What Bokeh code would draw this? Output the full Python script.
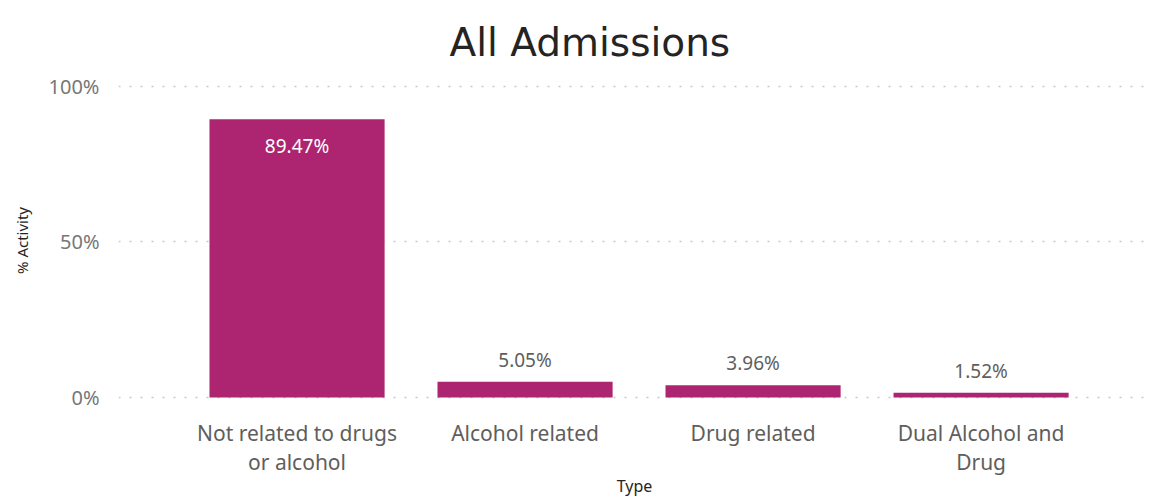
from bokeh.plotting import figure
from bokeh.models import ColumnDataSource, Range1d, LabelSet, FixedTicker
from bokeh.core.properties import value
from bokeh.embed import file_html
from bokeh.resources import INLINE

categories = ["Not related to drugs\nor alcohol", "Alcohol related", "Drug related", "Dual Alcohol and\nDrug"]
values = [89.47, 5.05, 3.96, 1.52]
value_labels = ["89.47%", "5.05%", "3.96%", "1.52%"]
y_ticks = [0, 50, 100]
y_tick_labels = ["0%", "50%", "100%"]

BAR = "#AD2471"
FONT = "Noto Sans"

xs = list(range(len(categories)))
src = ColumnDataSource(dict(x=xs, top=values))
inside = ColumnDataSource(dict(x=[xs[0]], y=[values[0]], lab=[value_labels[0]]))
outside = ColumnDataSource(dict(x=xs[1:], y=values[1:], lab=value_labels[1:]))

p = figure(width=1153, height=499, output_backend="svg", toolbar_location=None,
           x_range=Range1d(-0.783, 3.743), y_range=Range1d(-0.96, 101.9),
           min_border_left=118, min_border_right=3, min_border_top=80, min_border_bottom=99,
           title="All Admissions")
p.title.align = "left"
p.title.offset = 331
p.title.text_font = "DejaVu Sans"
p.title.text_font_size = "39px"
p.title.text_font_style = "normal"
p.title.text_color = "#252423"
p.title.standoff = 32
p.outline_line_color = None
p.background_fill_color = "white"

p.vbar(x="x", top="top", bottom=0, width=0.768, source=src, fill_color=BAR, line_color=None)

p.add_layout(LabelSet(x="x", y="y", text="lab", source=inside, text_align="center",
                      text_baseline="middle", y_offset=-27, text_color="white",
                      text_font=value(FONT), text_font_size="19px"))
p.add_layout(LabelSet(x="x", y="y", text="lab", source=outside, text_align="center",
                      text_baseline="middle", y_offset=22, text_color="#605E5C",
                      text_font=value(FONT), text_font_size="19px"))

# y axis
p.yaxis.ticker = FixedTicker(ticks=y_ticks)
p.yaxis.major_label_overrides = {t: l for t, l in zip(y_ticks, y_tick_labels)}
p.yaxis.axis_line_color = None
p.yaxis.major_tick_line_color = None
p.yaxis.minor_tick_line_color = None
p.yaxis.major_label_text_font = FONT
p.yaxis.major_label_text_font_size = "20px"
p.yaxis.major_label_text_color = "#777777"
p.yaxis.major_label_standoff = 13
p.yaxis.axis_label = "% Activity"
p.yaxis.axis_label_text_font = FONT
p.yaxis.axis_label_text_font_size = "15px"
p.yaxis.axis_label_text_font_style = "normal"
p.yaxis.axis_label_text_color = "#252423"
p.yaxis.axis_label_standoff = 14

# x axis
p.xaxis.ticker = FixedTicker(ticks=xs)
p.xaxis.major_label_overrides = {x: c for x, c in zip(xs, categories)}
p.xaxis.axis_line_color = None
p.xaxis.major_tick_line_color = None
p.xaxis.minor_tick_line_color = None
p.xaxis.major_label_text_font = FONT
p.xaxis.major_label_text_font_size = "21px"
p.xaxis.major_label_text_color = "#605E5C"
p.xaxis.major_label_text_line_height = 1.05
p.xaxis.major_label_standoff = 12
p.xaxis.axis_label = "Type"
p.xaxis.axis_label_text_font = FONT
p.xaxis.axis_label_text_font_size = "16px"
p.xaxis.axis_label_text_font_style = "normal"
p.xaxis.axis_label_text_color = "#252423"
p.xaxis.axis_label_standoff = -4

p.xgrid.grid_line_color = None
p.ygrid.ticker = FixedTicker(ticks=y_ticks)
p.ygrid.grid_line_color = "#C8C8C8"
p.ygrid.grid_line_dash = "2 9"
p.ygrid.grid_line_width = 1.5

open("out.html", "w").write(file_html(p, INLINE))
